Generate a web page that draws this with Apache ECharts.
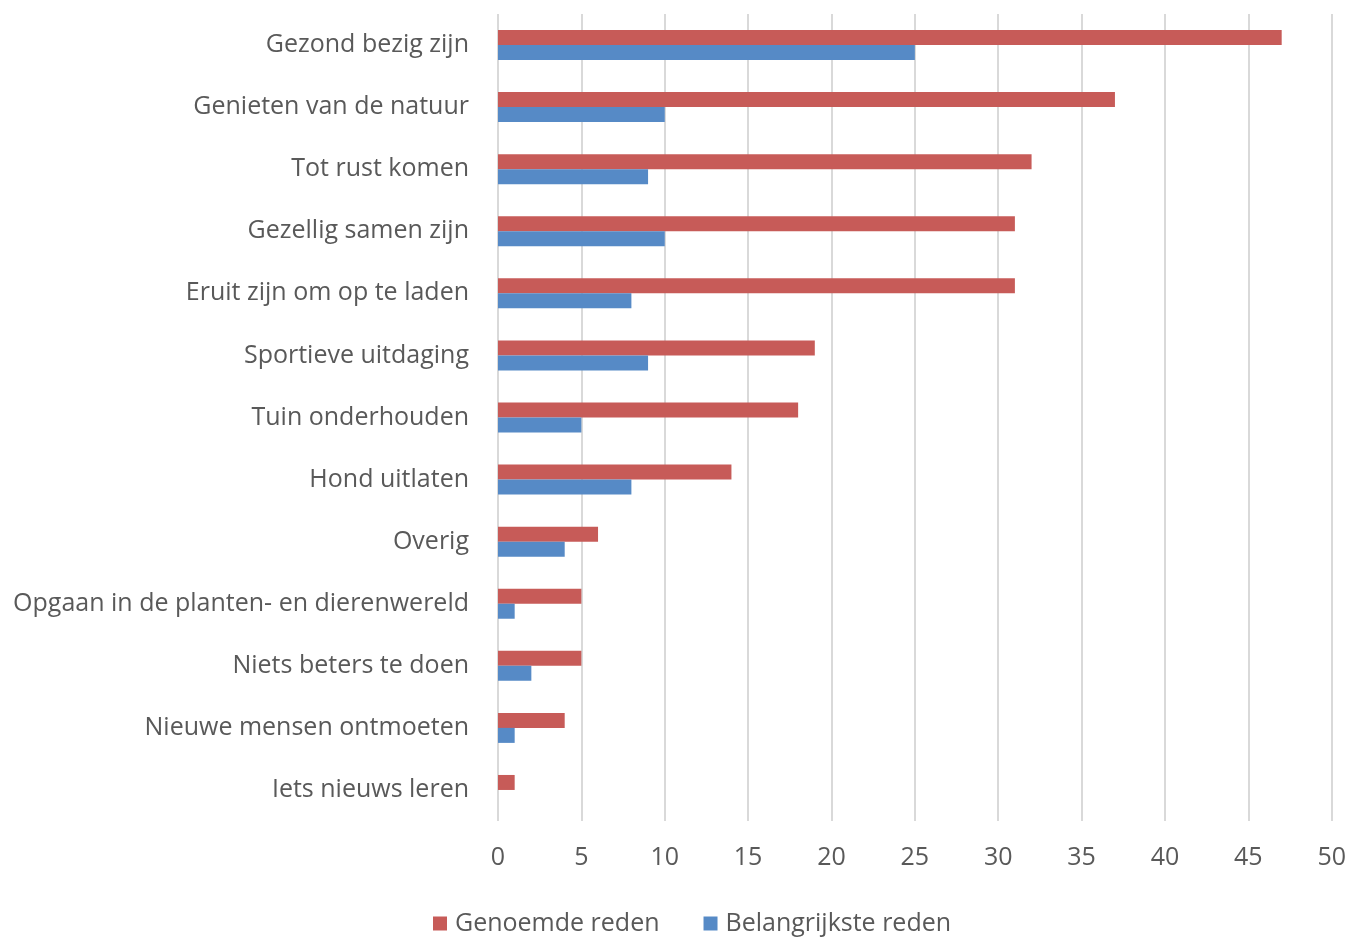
<!DOCTYPE html>
<html>
<head>
<meta charset="utf-8">
<script src="https://cdn.jsdelivr.net/npm/echarts@6/dist/echarts.min.js"></script>
<style>html,body{margin:0;padding:0;background:#fff}#c{width:1349px;height:937px}</style>
</head>
<body>
<div id="c"></div>
<script>
const categories = [
  'Gezond bezig zijn',
  'Genieten van de natuur',
  'Tot rust komen',
  'Gezellig samen zijn',
  'Eruit zijn om op te laden',
  'Sportieve uitdaging',
  'Tuin onderhouden',
  'Hond uitlaten',
  'Overig',
  'Opgaan in de planten- en dierenwereld',
  'Niets beters te doen',
  'Nieuwe mensen ontmoeten',
  'Iets nieuws leren'
];
const genoemdeReden = [47, 37, 32, 31, 31, 19, 18, 14, 6, 5, 5, 4, 1];
const belangrijksteReden = [25, 10, 9, 10, 8, 9, 5, 8, 4, 1, 2, 1, 0];
const xTicks = [0, 5, 10, 15, 20, 25, 30, 35, 40, 45, 50];

const chart = echarts.init(document.getElementById('c'));
const font = '"Open Sans", "Noto Sans", sans-serif';
chart.setOption({
  animation: false,
  textStyle: { fontFamily: font },
  grid: { left: 498, right: 17, top: 14, bottom: 116, containLabel: false },
  legend: {
    bottom: -4,
    left: 428,
    itemWidth: 14,
    itemHeight: 14,
    itemGap: 44,
    icon: 'rect',
    textStyle: { fontSize: 25, color: '#595959', fontFamily: font, padding: [0, 0, 0, 3] },
    data: ['Genoemde reden', 'Belangrijkste reden']
  },
  xAxis: {
    type: 'value',
    min: xTicks[0],
    max: xTicks[xTicks.length - 1],
    interval: 5,
    axisLine: { show: false },
    axisTick: { show: false },
    axisLabel: { fontSize: 25, color: '#595959', margin: 24, fontFamily: font },
    splitLine: { show: true, lineStyle: { color: '#D9D9D9', width: 2 } }
  },
  yAxis: {
    type: 'category',
    data: categories,
    inverse: true,
    axisLine: { show: false },
    axisTick: { show: false },
    axisLabel: { fontSize: 25, color: '#595959', margin: 29, fontFamily: font, padding: [4, 0, 0, 0] }
  },
  series: [
    {
      name: 'Genoemde reden',
      type: 'bar',
      data: genoemdeReden,
      itemStyle: { color: '#C75B58' },
      barWidth: 15,
      barGap: '0%',
      barCategoryGap: '51%'
    },
    {
      name: 'Belangrijkste reden',
      type: 'bar',
      data: belangrijksteReden,
      itemStyle: { color: '#568AC6' },
      barWidth: 15,
      barGap: '0%',
      barCategoryGap: '51%'
    }
  ]
});
</script>
</body>
</html>
